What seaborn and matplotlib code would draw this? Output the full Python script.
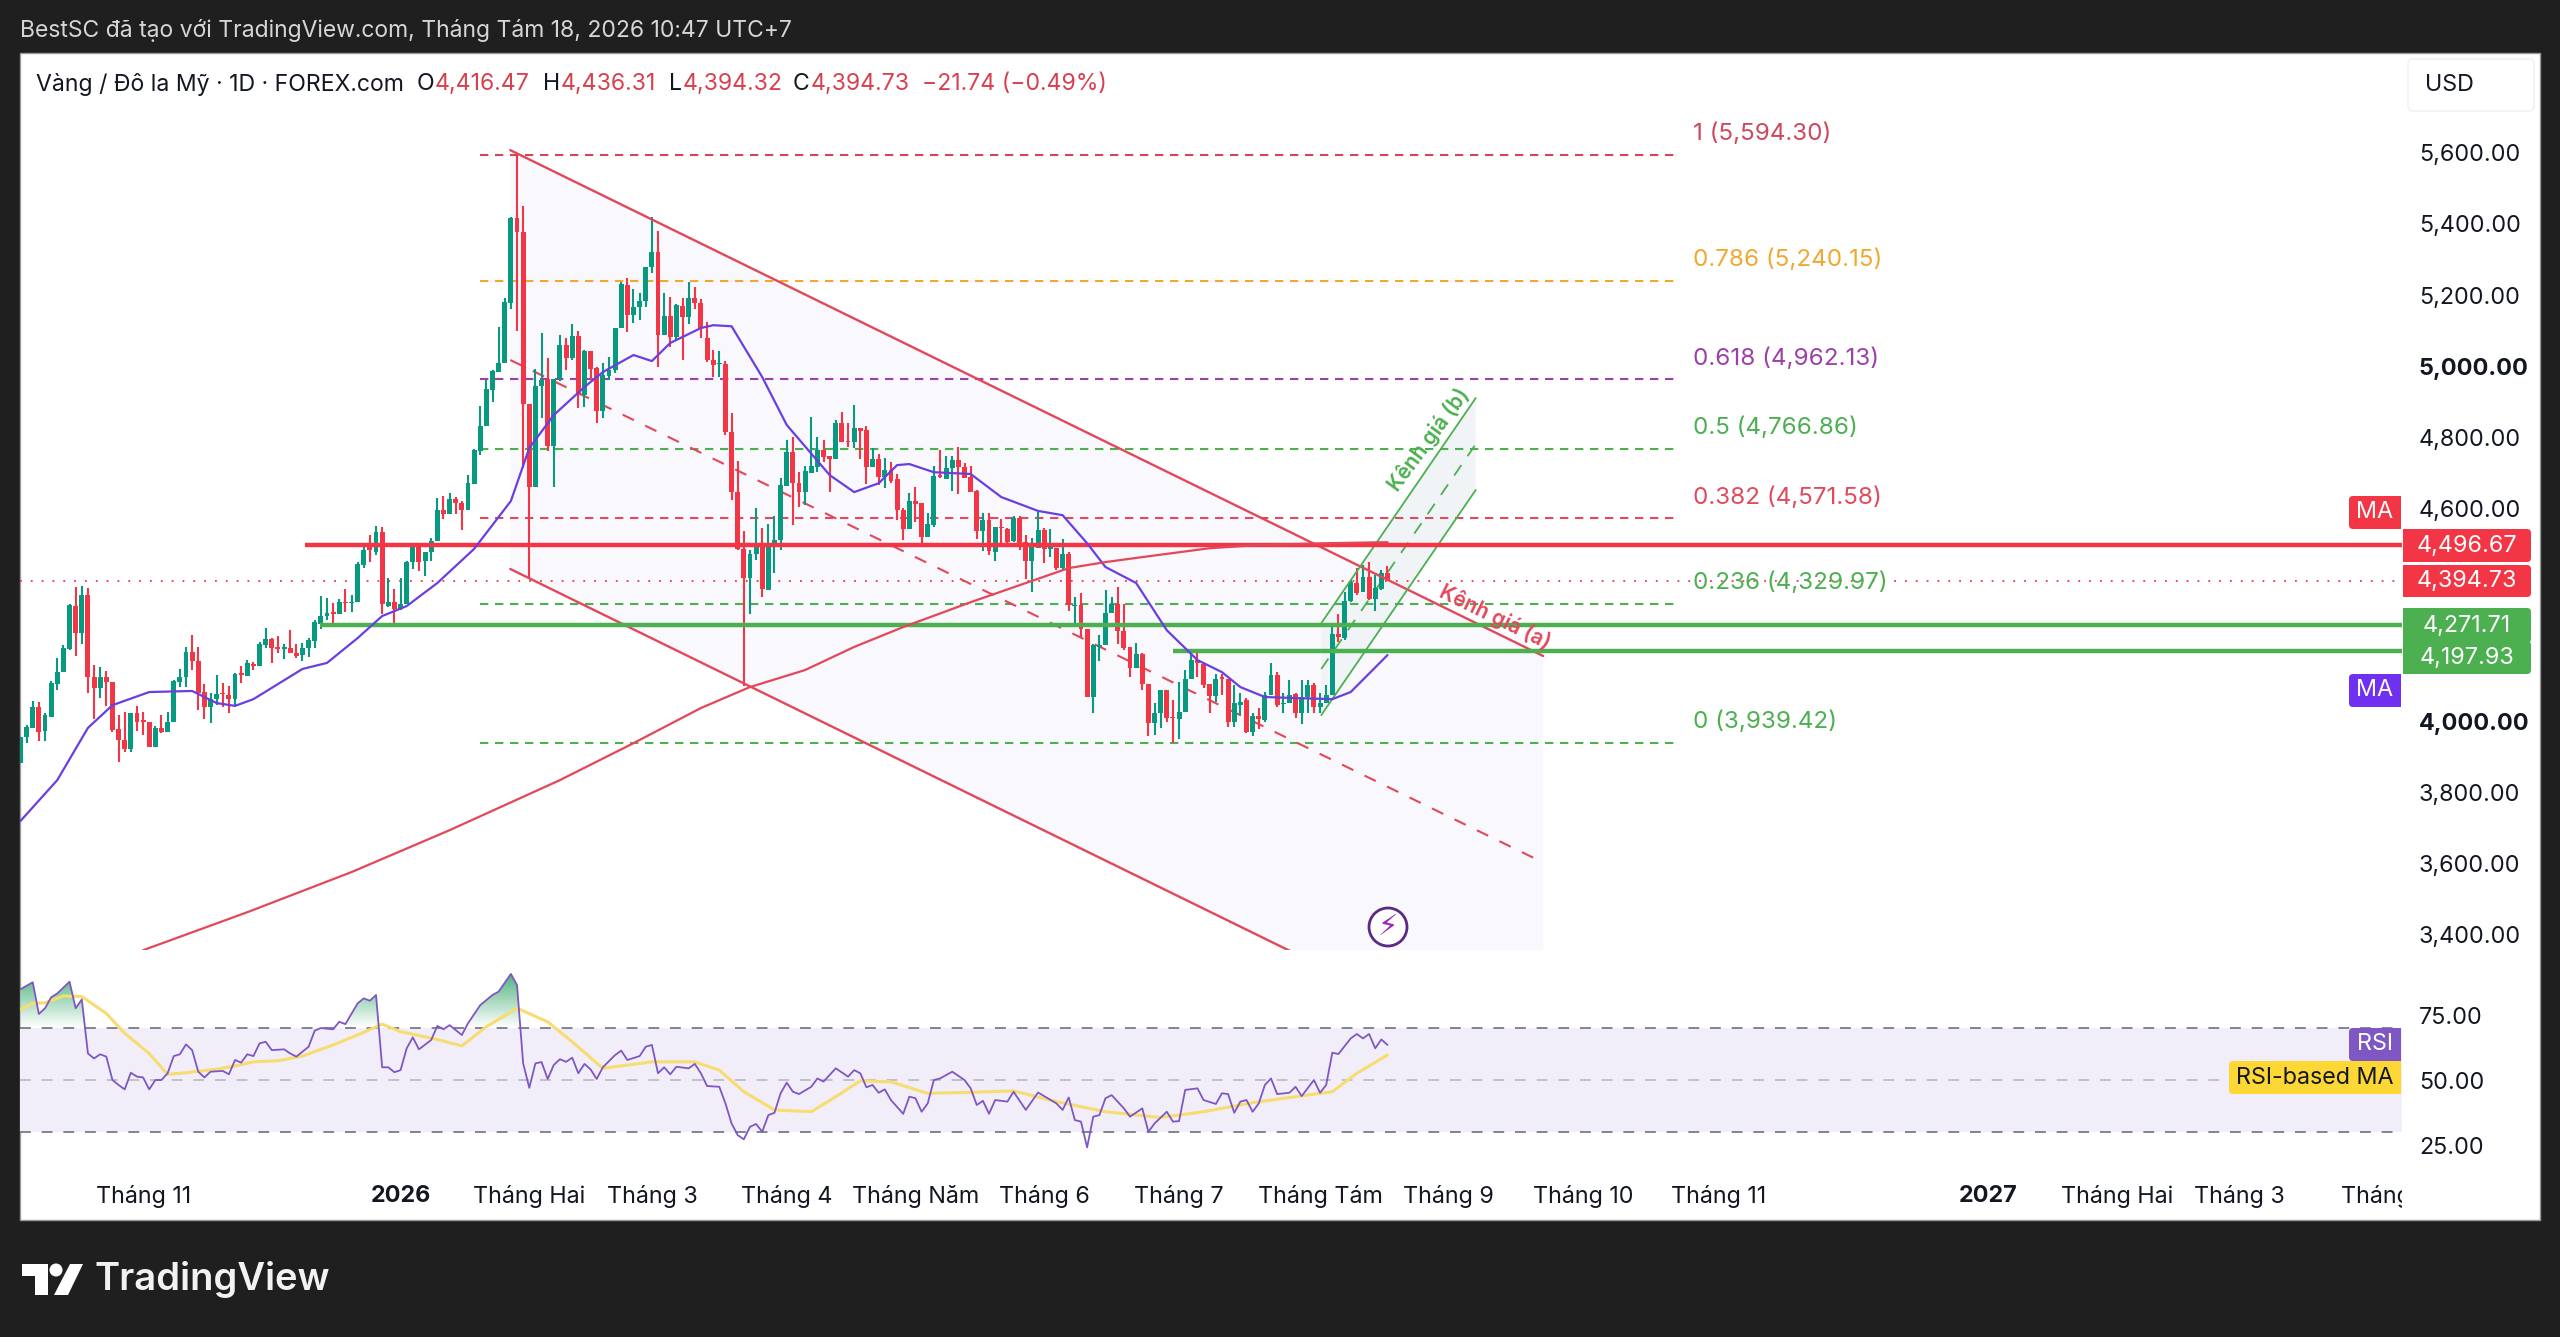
import numpy as np
import matplotlib
matplotlib.use('Agg')
from matplotlib import pyplot as plt
from matplotlib.patches import FancyBboxPatch, Rectangle, Circle, Polygon, PathPatch
from matplotlib.path import Path
from matplotlib.colors import LinearSegmentedColormap
from matplotlib.transforms import Bbox
import seaborn as sns

# candles, one per trading day
opens = [3881,3956,3980,4039,3972,4011,4105,4139,4202,4325,
    4247,4355,4123,4094,4123,4109,3978,3947,3923,4022,
    4001,3999,3928,3980,3970,3997,4109,4123,4194,4169,
    4081,4041,4062,4080,4074,4062,4135,4127,4161,4155,
    4215,4231,4208,4204,4205,4193,4186,4205,4226,4274,
    4297,4306,4301,4336,4332,4335,4440,4496,4475,4532,
    4325,4335,4316,4329,4449,4494,4452,4475,4507,4595,
    4583,4625,4615,4595,4667,4762,4830,4932,4984,5009,
    5178,5418,5378,4893,4658,4945,4963,4776,4963,5059,
    5022,5085,4918,5043,4995,4874,4972,4989,5108,5228,
    5144,5165,5184,5280,5320,5087,5141,5081,5170,5137,
    5193,5177,5078,5017,5005,5005,4815,4646,4486,4404,
    4470,4498,4369,4491,4510,4663,4757,4672,4644,4700,
    4716,4763,4747,4738,4840,4789,4787,4826,4820,4716,
    4737,4688,4707,4681,4594,4540,4620,4613,4519,4552,
    4693,4682,4712,4735,4716,4688,4649,4536,4566,4477,
    4547,4540,4508,4573,4505,4452,4489,4538,4484,4489,
    4430,4472,4324,4327,4259,4069,4209,4214,4305,4329,
    4255,4208,4151,4189,4106,3995,4024,4087,4012,4005,
    4026,4120,4172,4162,4104,4071,4122,4118,3998,4045,
    4059,3970,4014,4003,4073,4130,4048,4050,4076,4022,
    4067,4101,4040,4052,4073,4245,4233,4339,4388,4364,
    4407,4345,4371,4416.47]
closes = [3956,3983,4039,3970,4017,4108,4139,4205,4327,4247,
    4355,4123,4094,4123,4109,3975,3947,3923,4022,3999,
    3999,3928,3980,3970,3997,4113,4123,4194,4168,4080,
    4041,4062,4076,4077,4062,4133,4131,4163,4155,4216,
    4230,4205,4204,4208,4193,4184,4205,4229,4280,4297,
    4304,4301,4335,4332,4336,4443,4482,4482,4532,4329,
    4335,4316,4329,4449,4494,4449,4476,4508,4595,4583,
    4625,4614,4595,4670,4764,4830,4934,4987,5009,5179,
    5418,5378,4893,4658,4945,4962,4776,4963,5059,5023,
    5085,4918,5043,4992,4874,4975,4989,5108,5230,5144,
    5165,5184,5280,5320,5087,5141,5081,5172,5137,5193,
    5177,5106,5017,5003,5007,4815,4646,4486,4404,4472,
    4503,4372,4496,4510,4665,4757,4671,4644,4705,4718,
    4763,4745,4737,4841,4787,4787,4826,4818,4716,4737,
    4688,4707,4677,4594,4541,4620,4611,4519,4554,4691,
    4688,4714,4735,4715,4686,4646,4536,4566,4479,4547,
    4543,4505,4571,4502,4452,4496,4538,4484,4491,4430,
    4472,4327,4327,4259,4069,4214,4214,4305,4329,4255,
    4205,4151,4189,4104,3995,4024,4087,4010,4009,4026,
    4120,4172,4163,4101,4071,4120,4120,3998,4050,4054,
    3970,4014,4005,4073,4130,4045,4052,4073,4022,4067,
    4101,4040,4052,4073,4245,4236,4339,4392,4360,4407,
    4345,4374,4416,4394.73]
highs = [3956,3989,4058,4055,4022,4113,4177,4215,4329,4377,
    4381,4374,4158,4153,4142,4109,4017,4027,4024,4044,
    4027,3999,3987,4017,4025,4116,4147,4210,4243,4210,
    4105,4078,4130,4107,4099,4135,4155,4172,4166,4224,
    4261,4235,4241,4216,4257,4216,4219,4233,4285,4353,
    4346,4334,4343,4371,4355,4447,4498,4524,4550,4548,
    4402,4371,4402,4451,4496,4496,4477,4515,4628,4634,
    4642,4632,4620,4693,4766,4887,4960,4990,5111,5191,
    5421,5594.3,5451,4893,4993,5092,5023,4963,5087,5078,
    5118,5100,5045,5043,4998,5009,5026,5108,5238,5249,
    5216,5207,5280,5419,5381,5207,5195,5175,5193,5238,
    5222,5188,5125,5045,5042,5014,4867,4733,4535,4482,
    4599,4543,4554,4579,4684,4792,4799,4702,4718,4857,
    4799,4793,4747,4848,4871,4839,4890,4826,4831,4768,
    4752,4740,4729,4696,4600,4643,4658,4613,4585,4719,
    4763,4748,4748,4773,4726,4718,4651,4585,4587,4547,
    4570,4543,4578,4578,4524,4515,4590,4543,4540,4489,
    4512,4477,4350,4360,4259,4217,4242,4369,4350,4379,
    4329,4210,4219,4191,4106,4050,4089,4087,4059,4111,
    4144,4193,4194,4162,4104,4134,4134,4118,4101,4078,
    4064,4022,4036,4083,4164,4139,4078,4115,4078,4115,
    4115,4108,4078,4101,4266,4303,4364,4397,4430,4439,
    4447,4411,4425,4436.31]
lows = [3881,3939,3980,3944,3944,4011,4088,4139,4199,4184,
    4217,4078,4005,4064,4044,3969,3886,3914,3914,3972,
    3961,3928,3928,3966,3970,3997,4097,4097,4144,4031,
    4005,3996,4046,4039,4022,4046,4108,4127,4144,4155,
    4205,4163,4193,4174,4191,4177,4168,4182,4205,4259,
    4285,4273,4301,4308,4308,4335,4430,4449,4468,4302,
    4322,4276,4313,4329,4428,4423,4409,4452,4507,4569,
    4583,4583,4537,4595,4667,4750,4830,4900,4984,5009,
    5160,5100,4712,4400,4658,4853,4762,4658,4958,4989,
    5017,4881,4885,4961,4841,4855,4961,4981,5108,5097,
    5122,5131,5167,5263,4998,5087,5054,5073,5017,5118,
    5162,5078,5012,4968,4970,4806,4623,4482,4100,4303,
    4454,4350,4369,4416,4482,4663,4552,4604,4608,4700,
    4702,4729,4644,4738,4787,4773,4768,4738,4668,4716,
    4665,4657,4670,4566,4510,4540,4562,4500,4519,4546,
    4684,4682,4648,4639,4684,4644,4512,4480,4468,4452,
    4501,4499,4505,4482,4399,4364,4489,4446,4463,4425,
    4425,4311,4270,4238,4069,4024,4170,4214,4305,4217,
    4200,4123,4151,4087,3958,3961,3982,3998,3939.42,3951,
    4026,4120,4125,4092,4022,4054,4073,3984,3984,4017,
    3968,3958,3979,3998,4073,4040,4022,4050,4010,3993,
    4023,4022,4022,4052,4073,4223,4228,4336,4355,4364,
    4341,4310,4369,4394.32]

# moving averages, read at their turning points
ma_fast_bars = [0,6,11,15,21,28,32,35,38,46,50,55,59,63,68,74,80,83,87,92,95,100,103,106,111,113,116,121,125,
    132,136,140,143,145,149,155,160,166,170,174,177,182,187,192,196,199,203,208,214,217,223]
ma_fast_vals = [3719,3834,3981,4045,4082,4085,4051,4043,4062,4147,4164,4234,4296,4324,4389,4485,4620,4769,4862,
    4941,4983,5031,5014,5065,5107,5115,5112,4969,4834,4693,4645,4670,4721,4724,4701,4696,4631,4592,4580,4501,
    4434,4389,4256,4172,4138,4096,4068,4065,4062,4082,4186]
ma_slow_bars = [20,37,54,70,88,100,111,119,128,136,144,155,164,171,177,183,194,202,213,223]
ma_slow_vals = [3355,3462,3575,3693,3834,3938,4037,4096,4144,4209,4265,4335,4389,4431,4448,4462,4487,4496,4501,4504]

# RSI pane
rsi_bars = [0,2,3,4,5,6,8,9,10,11,12,13,14,15,16,17,18,19,20,21,22,23,24,25,26,27,28,29,30,31,33,34,35,36,37,38,39,40,
    41,43,44,45,47,48,49,51,52,53,55,56,57,58,59,60,61,62,63,64,65,67,68,69,70,72,73,75,77,78,80,81,82,83,84,85,86,87,
    88,89,90,91,92,93,94,95,97,98,99,101,102,103,104,105,106,107,109,110,111,112,114,115,116,117,118,119,120,121,122,
    123,124,125,126,127,129,130,131,133,135,136,137,138,139,140,141,142,144,145,146,147,148,149,150,152,154,155,156,
    157,158,159,161,162,164,166,169,170,171,172,173,174,175,176,177,178,180,181,183,184,185,187,188,189,190,192,193,
    195,196,197,198,199,200,201,202,203,204,205,207,208,209,211,212,213,214,215,217,218,219,220,221,222,223]
rsi_vals = [84.9,87.6,75.4,77.6,81.8,83.3,87.8,77.6,81,60.2,58.3,59.9,59,50,48.1,46.4,52.8,51.3,51,46.4,50,50,52.6,59.2,
    59.9,63.7,61.5,53.2,51,53.2,53.5,52.2,57.7,56.7,59.9,59.2,64.1,64.7,61.5,61.8,60.2,59,62.8,69,70,69.5,72.4,71.5,
    79.5,81.4,80.5,82.7,54.9,54.9,53,53.8,62.2,66.4,61.8,65.4,70.8,69.5,71.1,67.3,71.8,78.8,82.7,84,90.8,86.5,56.4,47,
    56.4,56.9,50.4,55.8,58,57,58.6,52.6,56.2,54.1,50.4,54.9,59.6,61.3,57.7,59.2,62.8,63.5,52.6,54.9,52.2,55.1,54.5,56.2,
    52.6,47.7,47.4,41,33.3,28.8,27.2,32,33.1,30.1,36.5,37.4,44.9,49,45.5,44.6,47.4,50.6,49.4,54.5,51.3,53.8,52.6,47.2,
    48.1,45.1,46.4,42.3,37,43.6,43,37.8,41,50,50.6,53.2,50,46.8,40.4,42,37,42.3,41.7,45.5,38.5,45.2,41,38.5,43.3,34.6,
    34,24.1,35.9,36.5,43,44.2,39.1,35.9,39.1,30.1,33.3,37.8,34,34.2,46.2,46.8,42.3,40.8,44.9,44.6,37.4,41.7,42.3,37.8,
    41,48.1,50.6,44.6,45.1,47.4,43.8,50,45.1,48.1,60.5,60,66,67.7,66,67.7,62.2,65.6,63.5]
rsi_ma_bars = [0,2,4,7,10,14,17,21,24,27,32,35,38,42,46,51,55,59,62,68,72,76,81,86,90,95,103,110,114,118,123,129,133,
    137,142,148,154,162,169,177,186,193,201,208,214,218,223]
rsi_ma_vals = [77.2,79.5,79.7,82.3,82.1,75.6,68,60.2,52.2,52.8,54.2,55.4,57,57.4,59.2,63.5,67.3,71.5,68.6,65.6,63.1,
    70.5,77.6,72.4,64.7,54.5,57,57,53.8,45.5,38.5,37.8,43.6,49.7,49.3,44.9,45.2,45.8,41.7,37.8,35.6,37.8,41.3,43.6,
    45.5,52.6,59.6]

# fibonacci retracement
fib_start, fib_end = 75, 270.4
fib_levels = [5594.30, 5240.15, 4962.13, 4766.86, 4571.58, 4329.97, 3939.42]
fib_names = ['1 (5,594.30)', '0.786 (5,240.15)', '0.618 (4,962.13)', '0.5 (4,766.86)', '0.382 (4,571.58)',
    '0.236 (4,329.97)', '0 (3,939.42)']
fib_colors = ['#d0465c', '#f0a92e', '#9c3fa8', '#4caf50', '#e04a5c', '#4caf50', '#4caf50']

# channels and horizontal levels
chan_a_bars = [79.9, 248.4]
chan_a_top = [5608, 4183.5]
chan_a_mid = [5017, 3602]
chan_a_low = [4428.5, 3003.6]
chan_b_bars = [212.2, 237.4]
chan_b_top = [4276, 4910]
chan_b_mid = [4147, 4780]
chan_b_low = [4017, 4651]
level_vals = [4496.67, 4271.71, 4197.93]
level_starts = [46.4, 48.9, 188]
level_colors = ['#f23645', '#4caf50', '#4caf50']
last_close = 4394.73

price_ticks = [5600, 5400, 5200, 5000, 4800, 4600, 4000, 3800, 3600, 3400]
bold_prices = [5000, 4000]
rsi_ticks = [75, 50, 25]
time_ticks = [20, 62, 83, 103, 125, 146, 167, 189, 212, 233, 255, 277, 321, 342, 362, 386]
time_labels = ['Tháng 11', '2026', 'Tháng Hai', 'Tháng 3', 'Tháng 4', 'Tháng Năm', 'Tháng 6', 'Tháng 7', 'Tháng Tám',
    'Tháng 9', 'Tháng 10', 'Tháng 11', '2027', 'Tháng Hai', 'Tháng 3', 'Tháng 4']

GREEN, RED = '#089981', '#f23645'
TEXT = '#131722'
W, H = 2560, 1337
FS = 16.8

sns.set_theme(style='white')
plt.rcParams['font.family'] = ['Inter', 'DejaVu Sans']
plt.rcParams['axes.unicode_minus'] = False

fig = plt.figure(figsize=(W / 100, H / 100), dpi=100, facecolor='#1f1f1f')


def pane(x0, y0, x1, y1):
    # axes placed by pixel box, y measured from the top
    return fig.add_axes([x0 / W, 1 - y1 / H, (x1 - x0) / W, (y1 - y0) / H])


back = pane(0, 0, W, H)
back.set_xlim(0, W)
back.set_ylim(H, 0)
back.axis('off')
back.add_patch(Rectangle((20, 53), 2520, 1167, fc='white', ec='#9a9a9a', lw=1))

ax = pane(20, 53, 2402, 950)
ax_rsi = pane(20, 950, 2402, 1170)
for a in (ax, ax_rsi):
    a.patch.set_alpha(0)
    sns.despine(ax=a, left=True, bottom=True, right=True, top=True)
    a.set_xlim(-0.08, 388.5)
    a.yaxis.tick_right()

ax.set_ylim(3355.6, 5881.5)
ax_rsi.set_ylim(15.4, 100)

# channel backgrounds first, candles on top of them
ax.fill(chan_a_bars + chan_a_bars[::-1], chan_a_top + chan_a_low[::-1], color='#f9f8fd', lw=0, zorder=1)
ax.fill(chan_b_bars + chan_b_bars[::-1], chan_b_top + chan_b_low[::-1], color='#f1f4f6', lw=0, zorder=1.1)

bars = np.arange(len(opens))
o, c, h, l = map(np.array, (opens, closes, highs, lows))
colors = np.where(c >= o, GREEN, RED)
ax.vlines(bars, l, h, colors=colors, lw=1.5, zorder=3)
ax.bar(bars, np.maximum(np.abs(c - o), 3), bottom=np.minimum(o, c), width=0.8, color=colors, lw=0, zorder=3)

sns.lineplot(x=ma_fast_bars, y=ma_fast_vals, ax=ax, color='#6a3fe0', lw=1.6, estimator=None, sort=False, zorder=5)
sns.lineplot(x=ma_slow_bars, y=ma_slow_vals, ax=ax, color='#e2475a', lw=1.6, estimator=None, sort=False, zorder=5)

# fib levels with their labels
for val, name, col in zip(fib_levels, fib_names, fib_colors):
    ax.hlines(val, fib_start, fib_end, colors=col, lw=1.5, linestyles=[(0, (4, 3.2))], zorder=2)
    ax.annotate(name, (fib_end, val), xytext=(10.8, 15), textcoords='offset points', color=col,
                fontsize=17.4, va='center', ha='left', zorder=6)

# red channel
sns.lineplot(x=chan_a_bars, y=chan_a_top, ax=ax, color='#e2475a', lw=1.7, estimator=None, zorder=4)
sns.lineplot(x=chan_a_bars, y=chan_a_low, ax=ax, color='#e2475a', lw=1.7, estimator=None, zorder=4)
ax.plot(chan_a_bars, chan_a_mid, color='#e2475a', lw=1.5, ls=(0, (6, 6)), zorder=2.5)

# green channel
sns.lineplot(x=chan_b_bars, y=chan_b_top, ax=ax, color='#4caf50', lw=1.3, estimator=None, zorder=4)
sns.lineplot(x=chan_b_bars, y=chan_b_low, ax=ax, color='#4caf50', lw=1.3, estimator=None, zorder=4)
ax.plot(chan_b_bars, chan_b_mid, color='#4caf50', lw=1.3, ls=(0, (7, 6)), zorder=2.5)

# thick horizontal levels and the last price
for val, start, col in zip(level_vals, level_starts, level_colors):
    ax.hlines(val, start, 388.5, colors=col, lw=3.2, zorder=4.5)
ax.hlines(last_close, -0.08, 388.5, colors=RED, lw=1.3, linestyles=[(0, (1, 5))], zorder=2.2)

ax.text(229.7, 4792, 'Kênh giá (b)', color='#4caf50', fontsize=15, fontweight='semibold',
        rotation=53.5, rotation_mode='anchor', ha='center', va='center', zorder=6)
ax.text(240.5, 4292, 'Kênh giá (a)', color='#e2475a', fontsize=15, fontweight='semibold',
        rotation=-26, rotation_mode='anchor', ha='center', va='center', zorder=6)

ax.set_xticks([])
ax.set_yticks(price_ticks)
ax.set_yticklabels([f'{p:,.2f}' for p in price_ticks], fontsize=FS, color=TEXT)
for p, lab in zip(price_ticks, ax.get_yticklabels()):
    if p in bold_prices:
        lab.set_fontweight('bold')
ax.tick_params(axis='y', length=0, pad=12.2)

# RSI pane
ax_rsi.axhspan(30, 70, color='#f2eef9', lw=0, zorder=1)
ax_rsi.axhline(70, color='#787b86', lw=1.3, ls=(0, (6, 6)), zorder=2)
ax_rsi.axhline(50, color='#bdbdc6', lw=1.3, ls=(0, (6, 6)), zorder=2)
ax_rsi.axhline(30, color='#787b86', lw=1.3, ls=(0, (6, 6)), zorder=2)

rsi_x, rsi_y = np.array(rsi_bars, dtype=float), np.array(rsi_vals)
over = ax_rsi.fill_between(rsi_x, rsi_y, 70, where=rsi_y >= 70, interpolate=True, facecolor='none', lw=0)
over_path = Path.make_compound_path(*over.get_paths())
fade = LinearSegmentedColormap.from_list('fade', ['#ffffff', '#4fb37c'])
glow = ax_rsi.imshow(np.linspace(1, 0, 64).reshape(-1, 1), extent=[-0.08, 388.5, 70, 91], aspect='auto',
                     cmap=fade, zorder=1.5)
glow.set_clip_path(PathPatch(over_path, transform=ax_rsi.transData))
ax_rsi.set_xlim(-0.08, 388.5)
ax_rsi.set_ylim(15.4, 100)

sns.lineplot(x=rsi_ma_bars, y=rsi_ma_vals, ax=ax_rsi, color='#f7dc6f', lw=2.2, estimator=None, sort=False, zorder=3)
sns.lineplot(x=rsi_bars, y=rsi_vals, ax=ax_rsi, color='#7e57c2', lw=1.3, estimator=None, sort=False, zorder=4)

ax_rsi.set_yticks(rsi_ticks)
ax_rsi.set_yticklabels([f'{v:.2f}' for v in rsi_ticks], fontsize=FS, color=TEXT)
ax_rsi.tick_params(axis='y', length=0, pad=12.2)
ax_rsi.set_xticks(time_ticks)
ax_rsi.set_xticklabels(time_labels, fontsize=FS, color=TEXT)
ax_rsi.tick_params(axis='x', length=0, pad=11)
for lab in ax_rsi.get_xticklabels():
    lab.set_clip_on(True)
    lab.set_clip_box(Bbox([[0, 0], [2402, H]]))
    if lab.get_text() in ('2026', '2027'):
        lab.set_fontweight('bold')

# overlay in pixels for price tags, header and logo
top = pane(0, 0, W, H)
top.patch.set_alpha(0)
top.set_xlim(0, W)
top.set_ylim(H, 0)
top.axis('off')


def tag(x0, y0, x1, y1, col, text, tcol='white', square=None):
    top.add_patch(FancyBboxPatch((x0 + 4, y0 + 4), x1 - x0 - 8, y1 - y0 - 8, boxstyle='round,pad=4,rounding_size=4',
                                 fc=col, ec='none'))
    if square == 'left':
        top.add_patch(Rectangle((x0, y0), 8, y1 - y0, fc=col, ec='none'))
    if square == 'right':
        top.add_patch(Rectangle((x1 - 8, y0), 8, y1 - y0, fc=col, ec='none'))
    top.text((x0 + x1) / 2, (y0 + y1) / 2, text, color=tcol, fontsize=FS, ha='center', va='center')


tag(2403, 529, 2531, 562, RED, '4,496.67', square='left')
tag(2403, 565, 2531, 597, RED, '4,394.73', square='left')
tag(2403, 608, 2531, 643, '#4caf50', '4,271.71', square='left')
tag(2403, 641, 2531, 674, '#4caf50', '4,197.93', square='left')
tag(2349, 496, 2401, 529, RED, 'MA', square='right')
tag(2349, 674, 2401, 707, '#7030f0', 'MA', square='right')
tag(2349, 1028, 2401, 1061, '#7e57c2', 'RSI', square='right')
tag(2229, 1061, 2401, 1094, '#fdd835', 'RSI-based MA', tcol=TEXT, square='right')

top.add_patch(FancyBboxPatch((2412, 63), 118, 44, boxstyle='round,pad=4,rounding_size=5', fc='white', ec='#f0f0f3', lw=1))
top.text(2449, 85, 'USD', color=TEXT, fontsize=FS, ha='center', va='center')

# lightning marker
top.add_patch(Circle((1388, 927), 19, fc='white', ec='#5b2a86', lw=2))
top.text(1388, 927, '\u26a1', color='#9c27b0', fontsize=21, ha='center', va='center', family='DejaVu Sans')

top.text(20, 31, 'BestSC đã tạo với TradingView.com, Tháng Tám 18, 2026 10:47 UTC+7', color='#d6d6d6',
         fontsize=16.5, ha='left', va='center')

# symbol line
top.text(36, 84, 'Vàng / Đô la Mỹ · 1D · FOREX.com', color=TEXT, fontsize=16.6, ha='left', va='center')
legend_letters = ['O', 'H', 'L', 'C']
legend_values = ['4,416.47', '4,436.31', '4,394.32', '4,394.73']
legend_letter_x = [417, 543, 669, 793]
legend_value_x = [435, 561, 683, 811]
for t, v, tx, vx in zip(legend_letters, legend_values, legend_letter_x, legend_value_x):
    top.text(tx, 84, t, color=TEXT, fontsize=16.6, ha='left', va='center')
    top.text(vx, 84, v, color='#d8404f', fontsize=16.6, ha='left', va='center')
top.text(922, 84, '\u221221.74 (\u22120.49%)', color='#d8404f', fontsize=16.6, ha='left', va='center')

# TradingView mark
top.add_patch(Polygon([(22, 1264), (48, 1264), (48, 1295), (35, 1295), (35, 1276), (22, 1276)], fc='white', ec='none'))
top.add_patch(Circle((56, 1270), 6.5, fc='white', ec='none'))
top.add_patch(Polygon([(70, 1264), (83, 1264), (68, 1295), (54, 1295)], fc='white', ec='none'))
top.text(94, 1279, 'TradingView', color='#f2f2f2', fontsize=27.5, fontweight='semibold', ha='left', va='center')

fig.savefig('out.png', dpi=100, facecolor=fig.get_facecolor())
